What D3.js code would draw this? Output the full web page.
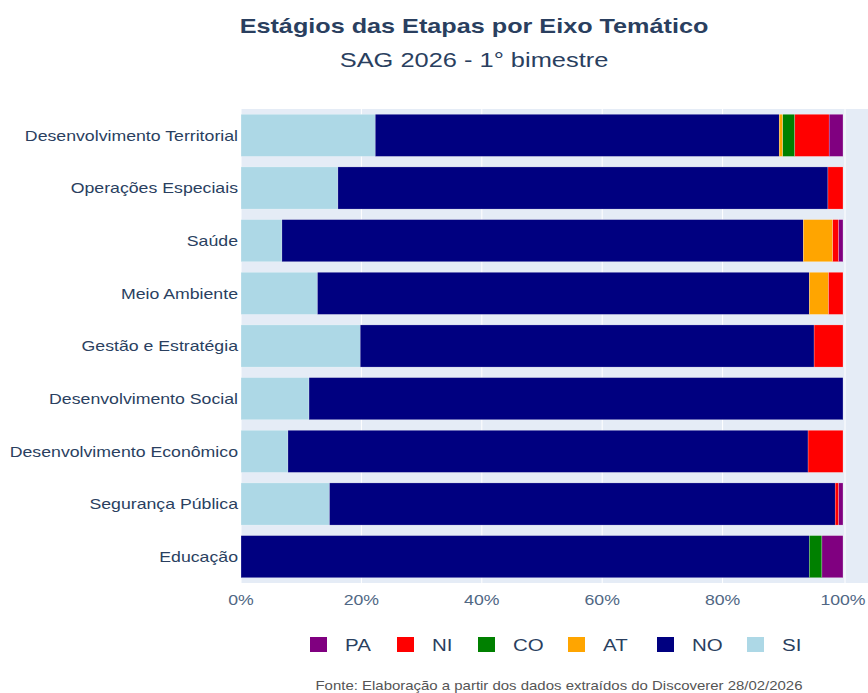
<!DOCTYPE html>
<html>
<head>
<meta charset="utf-8">
<script src="https://cdn.jsdelivr.net/npm/d3@7"></script>
<style>
  body { margin: 0; background: #fff; }
  text { font-family: "Liberation Sans", Arial, sans-serif; }
</style>
</head>
<body>
<div id="chart"></div>
<script>
var svgWidth = 868;
var svgHeight = 693;

var margin = { top: 109, right: 25, bottom: 110, left: 241 };

// categories, top to bottom
var categories = ["Desenvolvimento Territorial", "Operações Especiais", "Saúde", "Meio Ambiente",
    "Gestão e Estratégia", "Desenvolvimento Social", "Desenvolvimento Econômico",
    "Segurança Pública", "Educação"];

// percent of stages per category (stacking order SI, NO, AT, CO, NI, PA)
var SI = [22.3, 16.1, 6.8, 12.7, 19.8, 11.3, 7.8, 14.7, 0];
var NO = [67.1, 81.4, 86.6, 81.7, 75.4, 88.7, 86.4, 84.0, 94.4];
var AT = [0.6, 0, 4.9, 3.2, 0, 0, 0, 0, 0];
var CO = [2.0, 0, 0, 0, 0, 0, 0, 0, 2.1];
var NI = [5.7, 2.5, 1.0, 2.4, 4.8, 0, 5.8, 0.6, 0];
var PA = [2.3, 0, 0.7, 0, 0, 0, 0, 0.7, 3.5];

var seriesKeys = ["SI", "NO", "AT", "CO", "NI", "PA"];
var seriesValues = { SI: SI, NO: NO, AT: AT, CO: CO, NI: NI, PA: PA };
var colors = { PA: "#800080", NI: "#ff0000", CO: "#008000", AT: "#ffa500", NO: "#000080", SI: "#add8e6" };
var legendOrder = ["PA", "NI", "CO", "AT", "NO", "SI"];
var xTicks = [0, 20, 40, 60, 80, 100];

var width = 843 - margin.left;
var plotBottom = 583;

var svg = d3.select("#chart")
    .append("svg")
    .attr("width", svgWidth)
    .attr("height", svgHeight);

// the text in the original is a bit wider than Liberation Sans, stretch it
function stretch(sel, k) {
    sel.each(function() {
        var len = this.getComputedTextLength();
        d3.select(this)
            .attr("textLength", len * k)
            .attr("lengthAdjust", "spacingAndGlyphs");
    });
}

var x = d3.scaleLinear().domain([0, 100]).range([margin.left, margin.left + width]);
var y = d3.scaleBand()
    .domain(categories)
    .range([margin.top, plotBottom])
    .paddingInner(0.2)
    .paddingOuter(0.1);

// plot background
svg.append("rect")
    .attr("x", x(0))
    .attr("y", margin.top)
    .attr("width", svgWidth - x(0))
    .attr("height", plotBottom - margin.top)
    .attr("fill", "#e5ecf6");

// grid
svg.append("g").selectAll("line")
    .data(xTicks)
    .enter()
    .append("line")
    .attr("x1", d => x(d) + (d === 100 ? 2 : 0))
    .attr("x2", d => x(d) + (d === 100 ? 2 : 0))
    .attr("y1", margin.top)
    .attr("y2", plotBottom)
    .attr("stroke", "#fff")
    .attr("stroke-width", 1);

// stacked rows
var rows = categories.map((c, i) => {
    var row = { category: c };
    seriesKeys.forEach(k => { row[k] = seriesValues[k][i]; });
    return row;
});
var stacked = d3.stack().keys(seriesKeys)(rows);

var barGroup = svg.append("g");
stacked.forEach(layer => {
    barGroup.append("g")
        .attr("fill", colors[layer.key])
        .selectAll("rect")
        .data(layer.filter(d => d[1] - d[0] > 0))
        .enter()
        .append("rect")
        .attr("x", d => x(d[0]))
        .attr("y", d => y(d.data.category))
        .attr("width", d => x(d[1]) - x(d[0]))
        .attr("height", y.bandwidth())
        .attr("stroke", "#fff")
        .attr("stroke-width", 0.4)
        .attr("stroke-opacity", 0.6);
});

// y labels
var yLabels = svg.append("g").selectAll("text")
    .data(categories)
    .enter()
    .append("text")
    .attr("x", x(0) - 3)
    .attr("y", d => y(d) + y.bandwidth() / 2)
    .attr("dy", "0.35em")
    .attr("text-anchor", "end")
    .attr("font-size", 15)
    .attr("fill", "#2a3f5f")
    .text(d => d);
stretch(yLabels, 1.18);

// x tick labels
var xLabels = svg.append("g").selectAll("text")
    .data(xTicks)
    .enter()
    .append("text")
    .attr("x", d => x(d))
    .attr("y", 605)
    .attr("text-anchor", "middle")
    .attr("font-size", 15.5)
    .attr("fill", "#506784")
    .text(d => d + "%");
stretch(xLabels, 1.14);

// title
var title = svg.append("text")
    .attr("x", 474)
    .attr("y", 33)
    .attr("text-anchor", "middle")
    .attr("font-size", 21)
    .attr("font-weight", "bold")
    .attr("fill", "#2a3f5f")
    .text("Estágios das Etapas por Eixo Temático");
stretch(title, 1.2);

var subtitle = svg.append("text")
    .attr("x", 474)
    .attr("y", 67)
    .attr("text-anchor", "middle")
    .attr("font-size", 21)
    .attr("fill", "#2a3f5f")
    .text("SAG 2026 - 1° bimestre");
stretch(subtitle, 1.21);

// legend
var legendX = [310, 397, 478, 568, 657, 747];
var legend = svg.append("g").selectAll("g")
    .data(legendOrder)
    .enter()
    .append("g")
    .attr("transform", (d, i) => `translate(${legendX[i]}, 637)`);

legend.append("rect")
    .attr("width", 17)
    .attr("height", 15)
    .attr("fill", d => colors[d]);

var legendText = legend.append("text")
    .attr("x", 35)
    .attr("y", 14)
    .attr("font-size", 16)
    .attr("fill", "#2a3f5f")
    .text(d => d);
stretch(legendText, 1.28);

// source
var source = svg.append("text")
    .attr("x", 559)
    .attr("y", 690)
    .attr("text-anchor", "middle")
    .attr("font-size", 13)
    .attr("fill", "#555")
    .text("Fonte: Elaboração a partir dos dados extraídos do Discoverer 28/02/2026");
stretch(source, 1.15);
</script>
</body>
</html>
